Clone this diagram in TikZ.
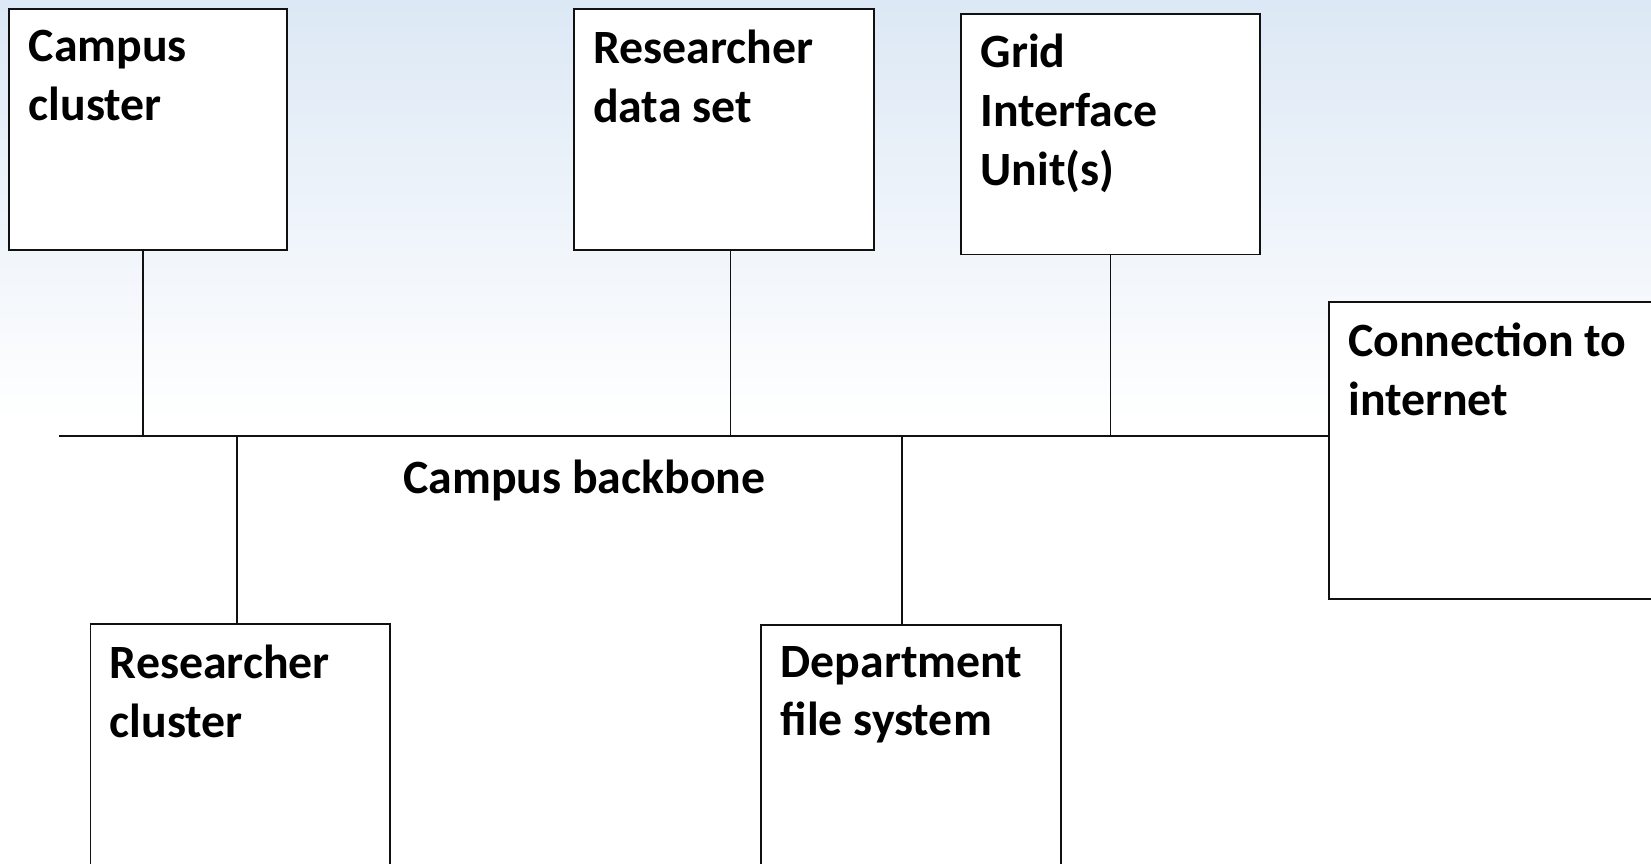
\documentclass[tikz,border=0pt]{standalone}
\usepackage{fontspec}
\setmainfont{Carlito}
\usetikzlibrary{
  calc,
  positioning
}
\definecolor{netSky}{HTML}{DCE8F5}
\definecolor{netInk}{HTML}{111111}
\tikzset{
  netBox/.style={
    draw=netInk,
    line width=1.1pt,
    fill=white,
    rectangle,
    inner sep=0pt,
    anchor=north west
  },
  boxLabel/.style={
    font=\fontsize{27.2}{33.4}\selectfont\bfseries,
    align=left,
    anchor=north west,
    inner sep=0pt,
    execute at begin node=\strut
  },
  netLine/.style={draw=netInk, line width=0.85pt},
  backboneLine/.style={draw=netInk, line width=1.1pt}
}

\begin{document}
\begin{tikzpicture}[x=0.02cm,y=0.02cm]
  \useasboundingbox (0,0) rectangle (1651,863);
  \clip (0,0) rectangle (1651,863);
  % sky backdrop
  \fill[white] (0,0) rectangle (1651,863);
  \shade[top color=netSky, bottom color=white] (0,440) rectangle (1651,863);

  % upper row
  \node[netBox, minimum width=5.56cm, minimum height=4.82cm]
    (cluster) at (8.4,854.6) {};
  \node[netBox, minimum width=6.00cm, minimum height=4.82cm]
    (dataset) at (572.8,854.6) {};
  \node[netBox, minimum width=5.98cm, minimum height=4.82cm]
    (giu) at (960.3,850.4) {};
  \node[netBox, minimum width=7.44cm, minimum height=5.94cm]
    (inet) at (1327.9,561.8) {};
  % lower row
  \node[netBox, minimum width=6.00cm, minimum height=5.60cm]
    (rcluster) at (89.5,239.6) {};
  \node[netBox, minimum width=6.00cm, minimum height=5.60cm]
    (dfs) at (760.3,238.6) {};

  \node[boxLabel] (clusterText) at ($(cluster.north west)+(20,-21.5)$) {Campus\\cluster};
  \node[boxLabel] (datasetText) at ($(dataset.north west)+(20,-21.5)$) {Researcher\\data set};
  \node[boxLabel] (giuText) at ($(giu.north west)+(20,-21.5)$) {Grid\\Interface\\Unit(s)};
  \node[boxLabel] (inetText) at ($(inet.north west)+(20,-21.5)$) {Connection to\\internet};
  \node[boxLabel] (rclusterText) at ($(rcluster.north west)+(20,-21.5)$) {Researcher\\cluster};
  \node[boxLabel] (dfsText) at ($(dfs.north west)+(20,-21.5)$) {Department\\file system};

  % backbone
  \coordinate (bbStart) at (59,427.1);
  \draw[backboneLine] (bbStart) -- (bbStart -| inet.west);
  \node[boxLabel] (bbText) at (403,410.5) {Campus backbone};

  \draw[netLine] ([xshift=-0.104cm]cluster.south) -- ([xshift=-0.104cm]cluster.south |- bbStart);
  \draw[netLine] ([xshift=0.136cm]dataset.south) -- ([xshift=0.136cm]dataset.south |- bbStart);
  \draw[netLine] (giu.south) -- (giu.south |- bbStart);
  \draw[netLine] ([xshift=-0.07cm]rcluster.north) -- ([xshift=-0.07cm]rcluster.north |- bbStart);
  \draw[netLine] ([xshift=-0.18cm]dfs.north) -- ([xshift=-0.18cm]dfs.north |- bbStart);
\end{tikzpicture}
\end{document}
